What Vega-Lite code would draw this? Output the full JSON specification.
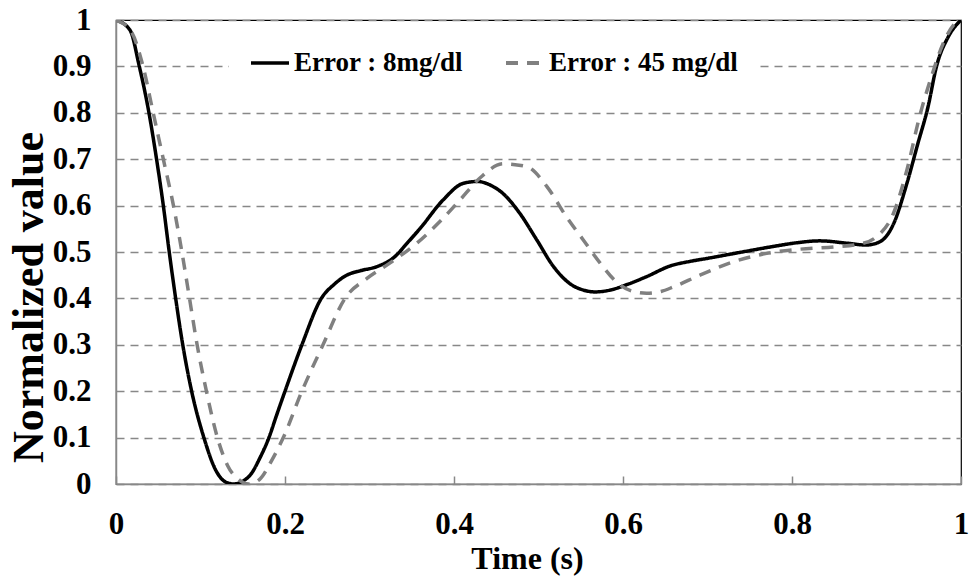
{
  "$schema": "https://vega.github.io/schema/vega-lite/v6.json",
  "width": 845,
  "height": 464,
  "autosize": {"type": "none"},
  "padding": {"left": 116, "top": 20, "right": 10, "bottom": 98},
  "background": "white",
  "config": {
    "view": {"stroke": "#000000", "strokeWidth": 1.2},
    "font": "Liberation Serif"
  },
  "data": {
    "values": [
      {"t": 0, "v": 1, "s": "Error : 8mg/dl"},
      {"t": 0.0166, "v": 0.978, "s": "Error : 8mg/dl"},
      {"t": 0.0276, "v": 0.9, "s": "Error : 8mg/dl"},
      {"t": 0.039, "v": 0.8, "s": "Error : 8mg/dl"},
      {"t": 0.048, "v": 0.7, "s": "Error : 8mg/dl"},
      {"t": 0.056, "v": 0.6, "s": "Error : 8mg/dl"},
      {"t": 0.063, "v": 0.5, "s": "Error : 8mg/dl"},
      {"t": 0.0706, "v": 0.4, "s": "Error : 8mg/dl"},
      {"t": 0.079, "v": 0.3, "s": "Error : 8mg/dl"},
      {"t": 0.0895, "v": 0.2, "s": "Error : 8mg/dl"},
      {"t": 0.104, "v": 0.1, "s": "Error : 8mg/dl"},
      {"t": 0.118, "v": 0.03, "s": "Error : 8mg/dl"},
      {"t": 0.13, "v": 0.004, "s": "Error : 8mg/dl"},
      {"t": 0.139, "v": 0, "s": "Error : 8mg/dl"},
      {"t": 0.15, "v": 0.006, "s": "Error : 8mg/dl"},
      {"t": 0.16, "v": 0.022, "s": "Error : 8mg/dl"},
      {"t": 0.17, "v": 0.055, "s": "Error : 8mg/dl"},
      {"t": 0.181, "v": 0.1, "s": "Error : 8mg/dl"},
      {"t": 0.19, "v": 0.148, "s": "Error : 8mg/dl"},
      {"t": 0.2, "v": 0.2, "s": "Error : 8mg/dl"},
      {"t": 0.22, "v": 0.3, "s": "Error : 8mg/dl"},
      {"t": 0.243, "v": 0.4, "s": "Error : 8mg/dl"},
      {"t": 0.258, "v": 0.43, "s": "Error : 8mg/dl"},
      {"t": 0.273, "v": 0.45, "s": "Error : 8mg/dl"},
      {"t": 0.29, "v": 0.46, "s": "Error : 8mg/dl"},
      {"t": 0.308, "v": 0.468, "s": "Error : 8mg/dl"},
      {"t": 0.33, "v": 0.49, "s": "Error : 8mg/dl"},
      {"t": 0.345, "v": 0.52, "s": "Error : 8mg/dl"},
      {"t": 0.36, "v": 0.551, "s": "Error : 8mg/dl"},
      {"t": 0.387, "v": 0.612, "s": "Error : 8mg/dl"},
      {"t": 0.411, "v": 0.648, "s": "Error : 8mg/dl"},
      {"t": 0.428, "v": 0.652, "s": "Error : 8mg/dl"},
      {"t": 0.442, "v": 0.645, "s": "Error : 8mg/dl"},
      {"t": 0.458, "v": 0.626, "s": "Error : 8mg/dl"},
      {"t": 0.478, "v": 0.583, "s": "Error : 8mg/dl"},
      {"t": 0.498, "v": 0.526, "s": "Error : 8mg/dl"},
      {"t": 0.518, "v": 0.468, "s": "Error : 8mg/dl"},
      {"t": 0.537, "v": 0.432, "s": "Error : 8mg/dl"},
      {"t": 0.553, "v": 0.418, "s": "Error : 8mg/dl"},
      {"t": 0.567, "v": 0.414, "s": "Error : 8mg/dl"},
      {"t": 0.585, "v": 0.418, "s": "Error : 8mg/dl"},
      {"t": 0.605, "v": 0.43, "s": "Error : 8mg/dl"},
      {"t": 0.628, "v": 0.447, "s": "Error : 8mg/dl"},
      {"t": 0.656, "v": 0.47, "s": "Error : 8mg/dl"},
      {"t": 0.68, "v": 0.48, "s": "Error : 8mg/dl"},
      {"t": 0.699, "v": 0.486, "s": "Error : 8mg/dl"},
      {"t": 0.738, "v": 0.499, "s": "Error : 8mg/dl"},
      {"t": 0.778, "v": 0.512, "s": "Error : 8mg/dl"},
      {"t": 0.806, "v": 0.52, "s": "Error : 8mg/dl"},
      {"t": 0.833, "v": 0.524, "s": "Error : 8mg/dl"},
      {"t": 0.865, "v": 0.519, "s": "Error : 8mg/dl"},
      {"t": 0.888, "v": 0.515, "s": "Error : 8mg/dl"},
      {"t": 0.904, "v": 0.522, "s": "Error : 8mg/dl"},
      {"t": 0.92, "v": 0.56, "s": "Error : 8mg/dl"},
      {"t": 0.936, "v": 0.648, "s": "Error : 8mg/dl"},
      {"t": 0.949, "v": 0.734, "s": "Error : 8mg/dl"},
      {"t": 0.961, "v": 0.813, "s": "Error : 8mg/dl"},
      {"t": 0.971, "v": 0.9, "s": "Error : 8mg/dl"},
      {"t": 0.985, "v": 0.964, "s": "Error : 8mg/dl"},
      {"t": 1, "v": 1, "s": "Error : 8mg/dl"},
      {"t": 0, "v": 1, "s": "Error : 45 mg/dl"},
      {"t": 0.018, "v": 0.975, "s": "Error : 45 mg/dl"},
      {"t": 0.032, "v": 0.9, "s": "Error : 45 mg/dl"},
      {"t": 0.044, "v": 0.8, "s": "Error : 45 mg/dl"},
      {"t": 0.056, "v": 0.7, "s": "Error : 45 mg/dl"},
      {"t": 0.068, "v": 0.6, "s": "Error : 45 mg/dl"},
      {"t": 0.078, "v": 0.5, "s": "Error : 45 mg/dl"},
      {"t": 0.087, "v": 0.4, "s": "Error : 45 mg/dl"},
      {"t": 0.096, "v": 0.3, "s": "Error : 45 mg/dl"},
      {"t": 0.107, "v": 0.2, "s": "Error : 45 mg/dl"},
      {"t": 0.12, "v": 0.1, "s": "Error : 45 mg/dl"},
      {"t": 0.132, "v": 0.04, "s": "Error : 45 mg/dl"},
      {"t": 0.145, "v": 0.01, "s": "Error : 45 mg/dl"},
      {"t": 0.157, "v": 0, "s": "Error : 45 mg/dl"},
      {"t": 0.17, "v": 0.01, "s": "Error : 45 mg/dl"},
      {"t": 0.184, "v": 0.05, "s": "Error : 45 mg/dl"},
      {"t": 0.198, "v": 0.1, "s": "Error : 45 mg/dl"},
      {"t": 0.22, "v": 0.2, "s": "Error : 45 mg/dl"},
      {"t": 0.245, "v": 0.3, "s": "Error : 45 mg/dl"},
      {"t": 0.271, "v": 0.4, "s": "Error : 45 mg/dl"},
      {"t": 0.297, "v": 0.443, "s": "Error : 45 mg/dl"},
      {"t": 0.324, "v": 0.476, "s": "Error : 45 mg/dl"},
      {"t": 0.356, "v": 0.519, "s": "Error : 45 mg/dl"},
      {"t": 0.383, "v": 0.565, "s": "Error : 45 mg/dl"},
      {"t": 0.407, "v": 0.612, "s": "Error : 45 mg/dl"},
      {"t": 0.431, "v": 0.66, "s": "Error : 45 mg/dl"},
      {"t": 0.458, "v": 0.69, "s": "Error : 45 mg/dl"},
      {"t": 0.486, "v": 0.684, "s": "Error : 45 mg/dl"},
      {"t": 0.51, "v": 0.641, "s": "Error : 45 mg/dl"},
      {"t": 0.533, "v": 0.576, "s": "Error : 45 mg/dl"},
      {"t": 0.553, "v": 0.526, "s": "Error : 45 mg/dl"},
      {"t": 0.573, "v": 0.476, "s": "Error : 45 mg/dl"},
      {"t": 0.592, "v": 0.436, "s": "Error : 45 mg/dl"},
      {"t": 0.61, "v": 0.416, "s": "Error : 45 mg/dl"},
      {"t": 0.628, "v": 0.411, "s": "Error : 45 mg/dl"},
      {"t": 0.645, "v": 0.415, "s": "Error : 45 mg/dl"},
      {"t": 0.66, "v": 0.425, "s": "Error : 45 mg/dl"},
      {"t": 0.691, "v": 0.45, "s": "Error : 45 mg/dl"},
      {"t": 0.731, "v": 0.479, "s": "Error : 45 mg/dl"},
      {"t": 0.77, "v": 0.497, "s": "Error : 45 mg/dl"},
      {"t": 0.809, "v": 0.506, "s": "Error : 45 mg/dl"},
      {"t": 0.849, "v": 0.511, "s": "Error : 45 mg/dl"},
      {"t": 0.88, "v": 0.517, "s": "Error : 45 mg/dl"},
      {"t": 0.9, "v": 0.533, "s": "Error : 45 mg/dl"},
      {"t": 0.92, "v": 0.583, "s": "Error : 45 mg/dl"},
      {"t": 0.936, "v": 0.677, "s": "Error : 45 mg/dl"},
      {"t": 0.951, "v": 0.792, "s": "Error : 45 mg/dl"},
      {"t": 0.965, "v": 0.878, "s": "Error : 45 mg/dl"},
      {"t": 0.979, "v": 0.95, "s": "Error : 45 mg/dl"},
      {"t": 0.995, "v": 0.996, "s": "Error : 45 mg/dl"},
      {"t": 1, "v": 1, "s": "Error : 45 mg/dl"}
    ]
  },
  "mark": {"type": "line", "interpolate": "monotone", "strokeWidth": 3.5, "clip": true},
  "encoding": {
    "x": {
      "field": "t", "type": "quantitative",
      "scale": {"domain": [0, 1], "nice": false, "zero": false},
      "axis": {
        "values": [0, 0.2, 0.4, 0.6, 0.8, 1],
        "format": ".1~f",
        "title": "Time (s)",
        "grid": false,
        "domainColor": "#888888", "domainWidth": 1.5,
        "ticks": true, "tickSize": -8, "tickColor": "#888888", "tickWidth": 1.5,
        "labelFont": "Liberation Serif", "labelFontWeight": "bold", "labelFontSize": 31, "labelColor": "#000000",
        "labelBaseline": "alphabetic", "labelPadding": 57,
        "labelFlush": false, "labelOverlap": false,
        "titleFont": "Liberation Serif", "titleFontWeight": "bold", "titleFontSize": 32, "titleColor": "#000000",
        "titleX": 411, "titleY": 84, "titleBaseline": "alphabetic", "titleAlign": "center"
      }
    },
    "y": {
      "field": "v", "type": "quantitative",
      "scale": {"domain": [0, 1], "nice": false, "zero": false},
      "axis": {
        "values": [0, 0.1, 0.2, 0.3, 0.4, 0.5, 0.6, 0.7, 0.8, 0.9, 1],
        "format": ".1~f",
        "title": "Normalized value",
        "grid": true, "gridColor": "#888888", "gridWidth": 1.3, "gridDash": [8, 6],
        "domainColor": "#888888", "domainWidth": 1.5,
        "ticks": false,
        "labelFont": "Liberation Serif", "labelFontWeight": "bold", "labelFontSize": 31, "labelColor": "#000000",
        "labelPadding": 25, "labelBaseline": "middle",
        "labelFlush": false, "labelOverlap": false,
        "titleFont": "Liberation Serif", "titleFontWeight": "bold", "titleFontSize": 44, "titleColor": "#000000",
        "titleX": -74, "titleY": 277, "titleAngle": -90, "titleBaseline": "alphabetic", "titleAlign": "center"
      }
    },
    "color": {
      "field": "s", "type": "nominal",
      "scale": {"domain": ["Error : 8mg/dl", "Error : 45 mg/dl"], "range": ["#000000", "#808080"]},
      "legend": {
        "title": null,
        "orient": "none",
        "legendX": 113,
        "legendY": 2,
        "direction": "horizontal",
        "fillColor": "white",
        "padding": 20,
        "symbolType": "stroke",
        "symbolSize": 1444,
        "symbolStrokeWidth": 4,
        "labelFont": "Liberation Serif", "labelFontWeight": "bold", "labelFontSize": 27, "labelColor": "#000000",
        "labelOffset": 3,
        "columnPadding": 35,
        "labelLimit": 400
      }
    },
    "strokeDash": {
      "field": "s", "type": "nominal",
      "scale": {"domain": ["Error : 8mg/dl", "Error : 45 mg/dl"], "range": [[1, 0], [12, 9]]},
      "legend": {
        "title": null,
        "orient": "none",
        "legendX": 113,
        "legendY": 2,
        "direction": "horizontal",
        "fillColor": "white",
        "padding": 20,
        "symbolType": "stroke",
        "symbolSize": 1444,
        "symbolStrokeWidth": 4,
        "labelFont": "Liberation Serif", "labelFontWeight": "bold", "labelFontSize": 27, "labelColor": "#000000",
        "labelOffset": 3,
        "columnPadding": 35,
        "labelLimit": 400
      }
    },
    "strokeWidth": {
      "field": "s", "type": "nominal",
      "scale": {"domain": ["Error : 8mg/dl", "Error : 45 mg/dl"], "range": [3.5, 4]},
      "legend": null
    }
  }
}
